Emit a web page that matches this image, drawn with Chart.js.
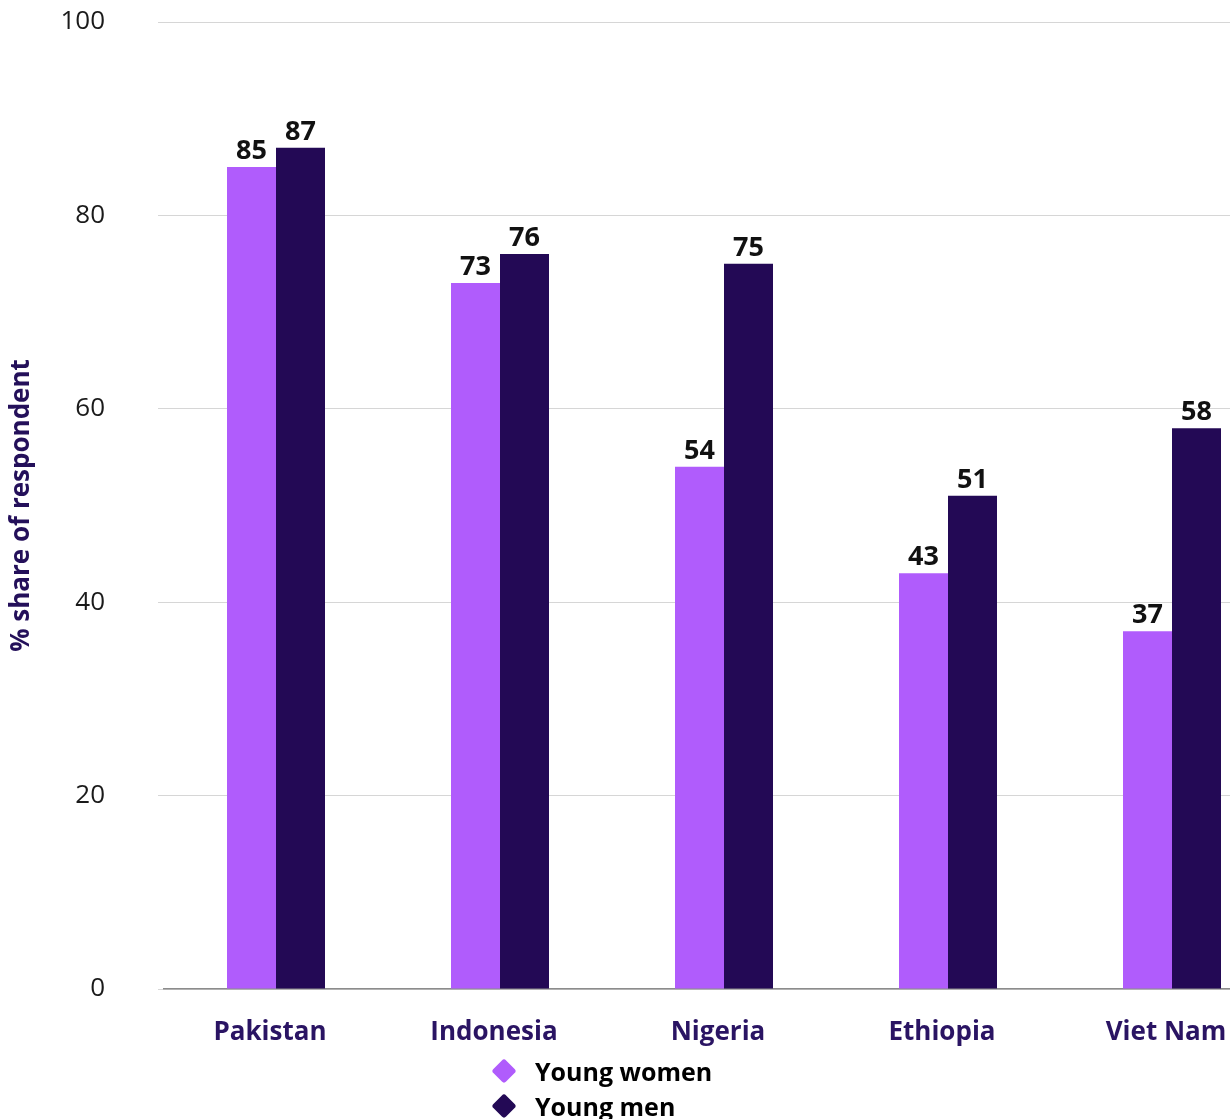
<!DOCTYPE html>
<html>
<head>
<meta charset="utf-8">
<script src="https://cdn.jsdelivr.net/npm/chart.js@4/dist/chart.umd.min.js"></script>
<style>
  html, body { margin: 0; padding: 0; background: #fff; width: 1230px; height: 1119px; overflow: hidden; }
  #wrap { position: relative; width: 1230px; height: 1119px; }
  #grafico { position: absolute; left: 0; top: 0; }
  #legenda { position: absolute; left: 491px; top: 1053px; font-family: 'Open Sans', sans-serif; font-weight: bold; font-size: 25px; color: #000; }
  .item { display: flex; align-items: center; height: 35px; }
  .marca { width: 18px; height: 18px; border-radius: 3px; transform: rotate(45deg); margin: 0 22px 0 4px; }
</style>
</head>
<body>
<div id="wrap">
  <canvas id="grafico" width="1290" height="1119"></canvas>
  <div id="legenda"></div>
</div>
<script>
// dados
const paises = ["Pakistan", "Indonesia", "Nigeria", "Ethiopia", "Viet Nam"];
const mulheres = [85, 73, 54, 43, 37];
const homens = [87, 76, 75, 51, 58];
const ticksY = [0, 20, 40, 60, 80, 100];

const corMulheres = "#b05cfc";
const corHomens = "#230955";
const fonte = "'Open Sans', Lato, sans-serif";

// rótulos em cima das barras
const rotulos = {
    id: "rotulos",
    afterDatasetsDraw(chart) {
        const ctx = chart.ctx;
        ctx.save();
        ctx.font = "bold 27px " + fonte;
        ctx.fillStyle = "#111";
        ctx.textAlign = "center";
        ctx.textBaseline = "alphabetic";
        chart.data.datasets.forEach((ds, i) => {
            chart.getDatasetMeta(i).data.forEach((barra, j) => {
                ctx.fillText(ds.data[j], barra.x, barra.y - 8);
            });
        });
        ctx.restore();
    }
};

const grafico = new Chart(document.getElementById("grafico"), {
    type: "bar",
    data: {
        labels: paises,
        datasets: [
            { label: "Young women", data: mulheres, backgroundColor: corMulheres },
            { label: "Young men", data: homens, backgroundColor: corHomens }
        ]
    },
    options: {
        responsive: false,
        animation: false,
        devicePixelRatio: 1,
        categoryPercentage: 0.4375,
        barPercentage: 1,
        layout: { padding: { top: 22, right: 6, bottom: 0, left: 0 } },
        plugins: { legend: { display: false }, tooltip: { enabled: false } },
        scales: {
            x: {
                grid: { display: false, drawTicks: false },
                border: { display: true, color: "#8c8c8c", width: 1.5 },
                ticks: { color: "#2a1463", font: { family: fonte, size: 26, weight: "bold" }, padding: 28, labelOffset: -6, maxRotation: 0 },
                afterFit(scale) { scale.height = 130; }
            },
            y: {
                min: 0,
                max: 100,
                afterBuildTicks(scale) { scale.ticks = ticksY.map(v => ({ value: v })); },
                grid: { color: "#d6d6d6", lineWidth: 1, drawTicks: true, tickLength: 6 },
                border: { display: false },
                ticks: { color: "#1a1a1a", font: { family: fonte, size: 26 }, padding: 53 },
                title: {
                    display: true,
                    text: "% share of respondent",
                    color: "#24105a",
                    font: { family: fonte, size: 26, weight: "bold" },
                    padding: { top: 6, bottom: 0 }
                },
                afterFit(scale) {
                    scale.width = 164;
                    // o padding dos ticks não deve empurrar a área do gráfico
                    scale.paddingTop = 16;
                    scale.paddingBottom = 16;
                }
            }
        }
    },
    plugins: [rotulos]
});

// legenda em html
const legenda = document.getElementById("legenda");
grafico.data.datasets.forEach(ds => {
    const item = document.createElement("div");
    item.className = "item";
    const marca = document.createElement("span");
    marca.className = "marca";
    marca.style.background = ds.backgroundColor;
    const texto = document.createElement("span");
    texto.textContent = ds.label;
    item.appendChild(marca);
    item.appendChild(texto);
    legenda.appendChild(item);
});
</script>
</body>
</html>
